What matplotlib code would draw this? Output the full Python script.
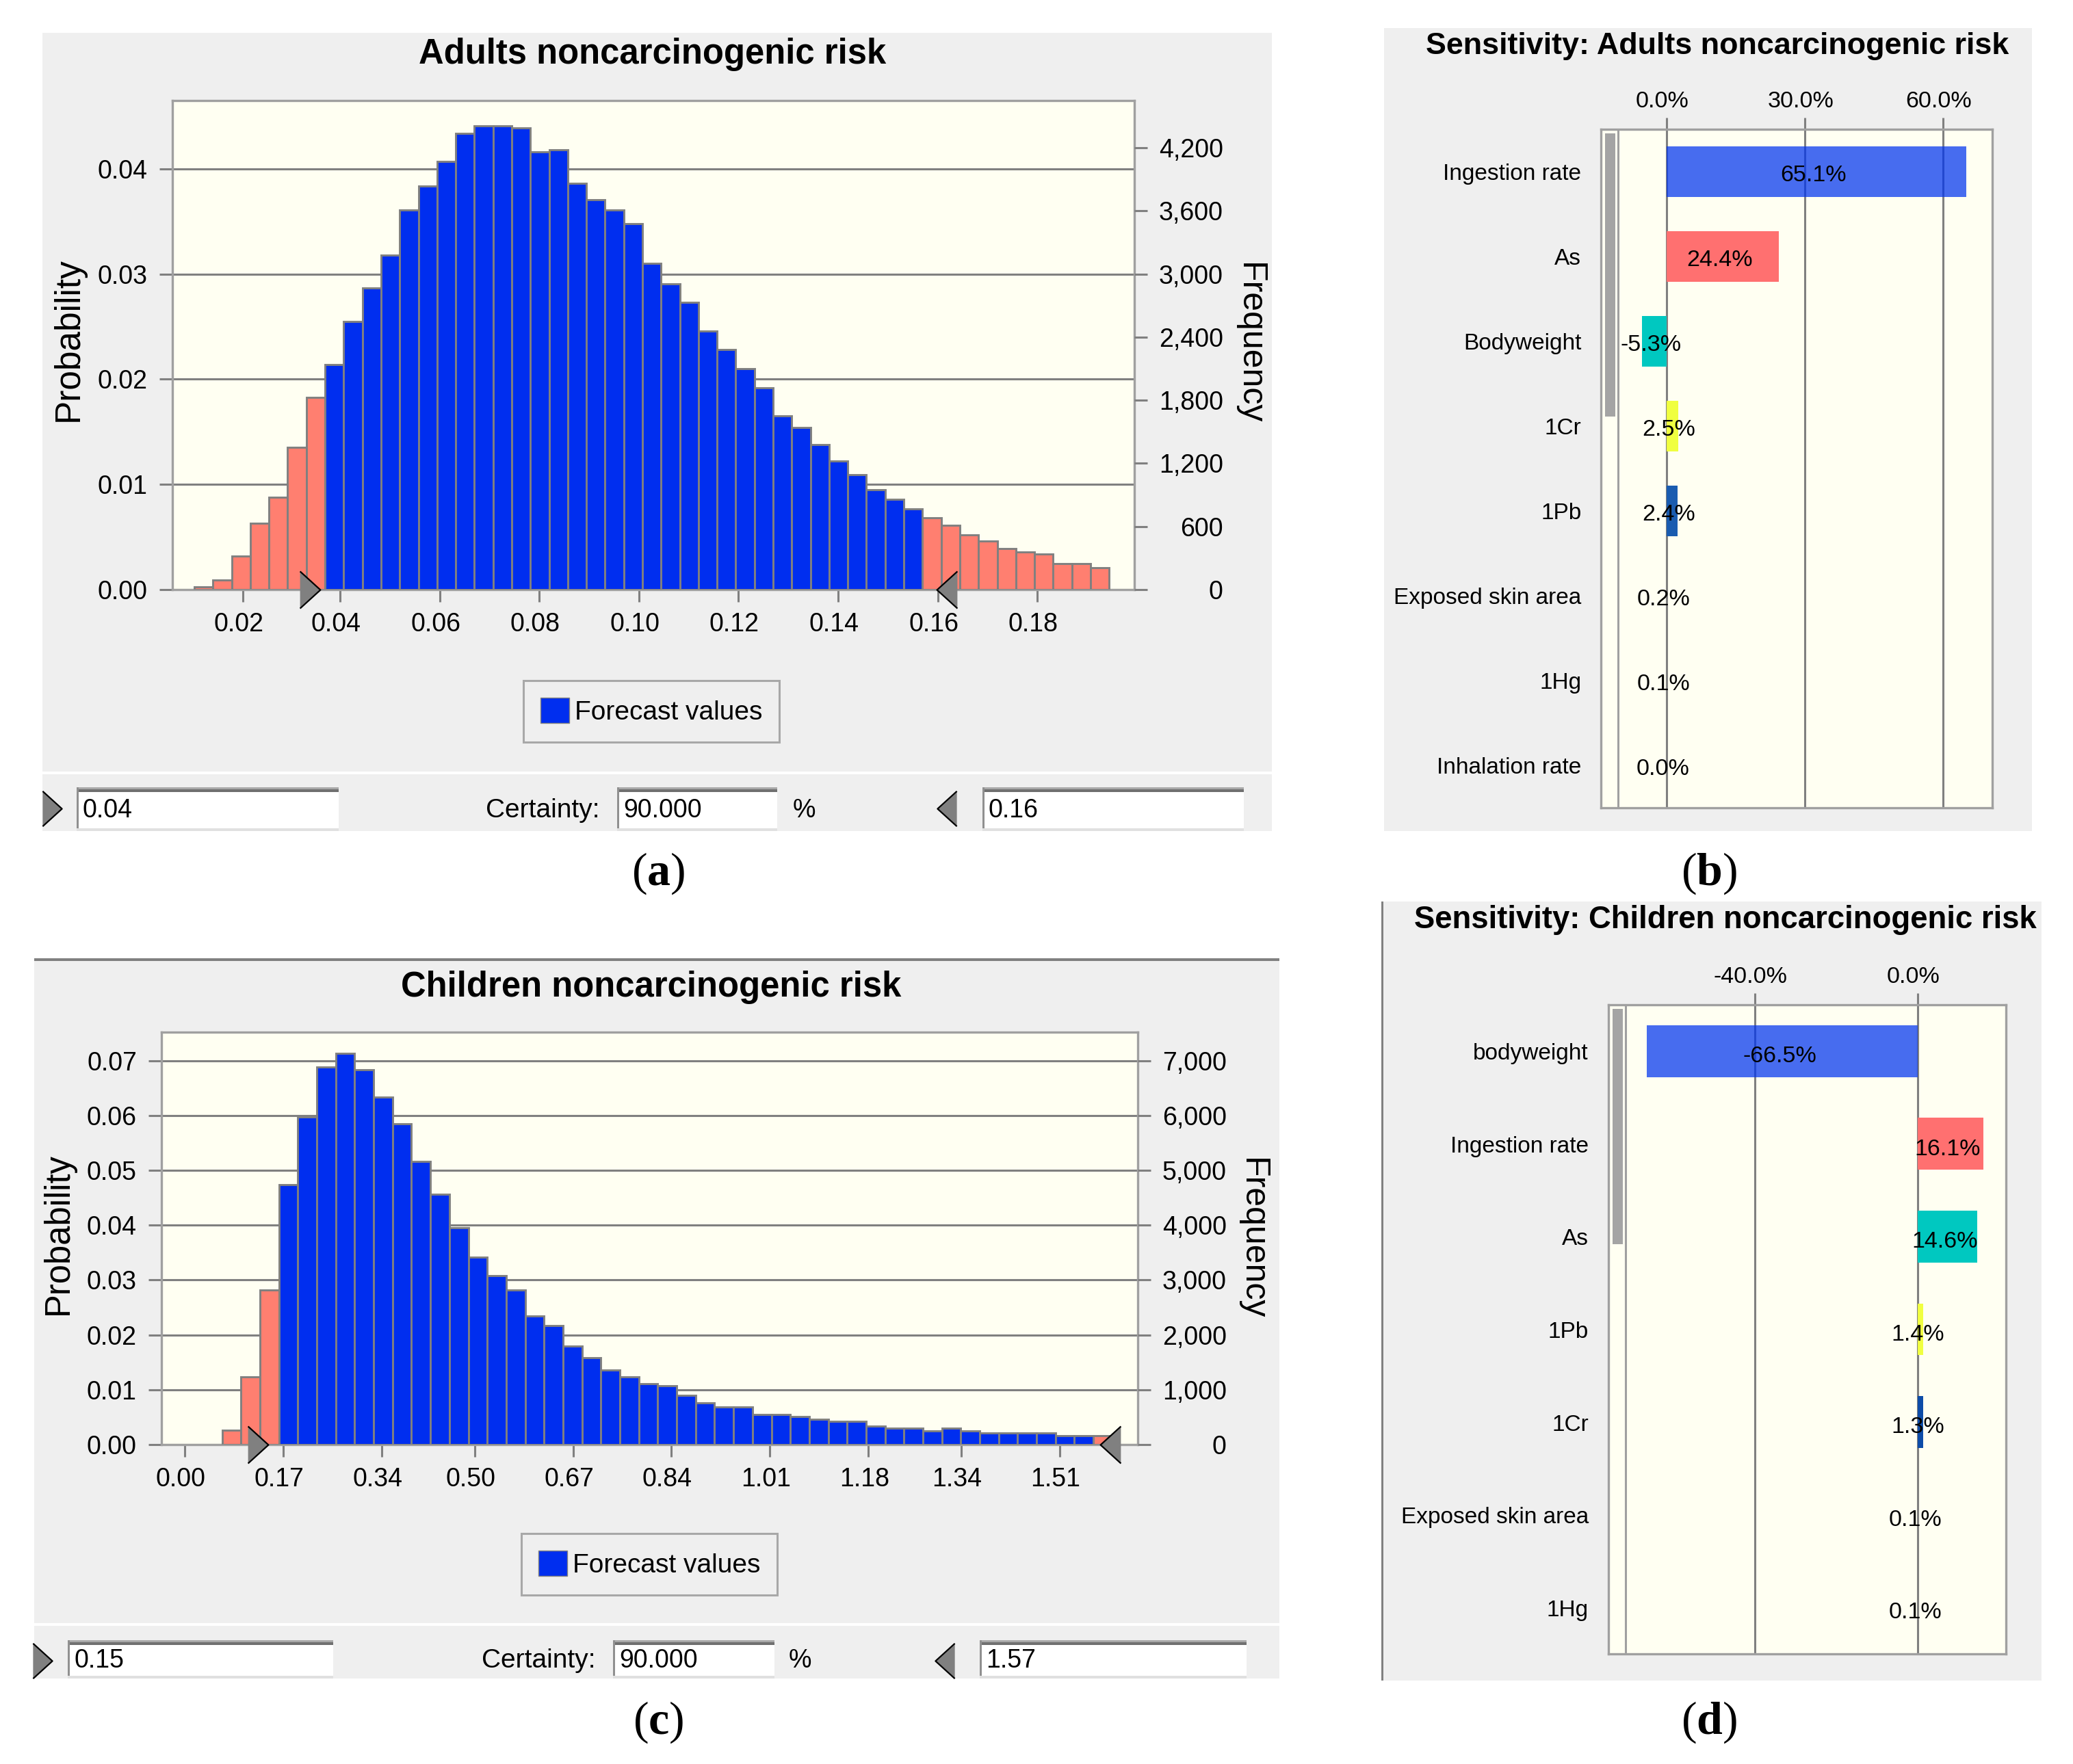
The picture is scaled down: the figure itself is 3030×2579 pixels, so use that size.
import matplotlib
matplotlib.use('Agg')
import matplotlib.pyplot as plt
from matplotlib.patches import Rectangle, Patch
from matplotlib.transforms import Affine2D, ScaledTranslation

plt.rcParams['font.family'] = ['Liberation Sans', 'DejaVu Sans']
plt.rcParams['mathtext.fontset'] = 'custom'
plt.rcParams['mathtext.bf'] = 'Liberation Serif:bold'

W, H = 3030, 2579

# ---- data ----
adults_prob = [.00025, .0009, .0032, .0063, .0088, .01355, .0183, .0214, .0255, .0287,
               .0318, .0361, .0384, .0407, .0434, .0441, .0441, .0439, .0416, .0418,
               .0386, .0371, .0361, .0348, .0310, .0291, .0273, .0246, .0228, .0210,
               .0192, .0165, .0154, .0138, .0122, .0109, .0095, .0086, .0077, .0068,
               .0061, .0052, .0046, .0039, .0036, .0034, .0025, .0025, .0021]
adults_start = 0.0107
adults_bin = 0.00375
adults_low_tail = 7
adults_high_tail = 10
adults_xticks = [.0205, .04, .06, .08, .10, .12, .14, .16, .18]
adults_xlabels = ['0.02', '0.04', '0.06', '0.08', '0.10', '0.12', '0.14', '0.16', '0.18']
adults_yticks = [0, .01, .02, .03, .04]
adults_freq = [0, 600, 1200, 1800, 2400, 3000, 3600, 4200]

children_prob = [.0026, .0124, .0282, .0474, .0597, .0688, .0713, .0683, .0633, .0585,
                 .0516, .0457, .0395, .0342, .0308, .0282, .0235, .0217, .0179, .0158,
                 .0136, .0124, .0111, .0107, .0090, .0076, .0068, .0068, .0055, .0055,
                 .0051, .0046, .0042, .0042, .0034, .0030, .0030, .0025, .0030, .0025,
                 .0021, .0021, .0021, .0021, .0016, .0016, .0016]
children_start = 0.0642
children_bin = 0.0327
children_low_tail = 3
children_high_tail = 1
children_xticks = [0, .17, .34, .50, .67, .84, 1.01, 1.18, 1.34, 1.51]
children_xlabels = ['0.00', '0.17', '0.34', '0.50', '0.67', '0.84', '1.01', '1.18', '1.34', '1.51']
children_yticks = [0, .01, .02, .03, .04, .05, .06, .07]
children_freq = [0, 1000, 2000, 3000, 4000, 5000, 6000, 7000]

sens_a_names = ['Ingestion rate', 'As', 'Bodyweight', '1Cr', '1Pb', 'Exposed skin area', '1Hg', 'Inhalation rate']
sens_a_vals = [65.1, 24.4, -5.3, 2.5, 2.4, 0.2, 0.1, 0.0]
sens_a_ticks = [0, 30, 60]
sens_c_names = ['bodyweight', 'Ingestion rate', 'As', '1Pb', '1Cr', 'Exposed skin area', '1Hg']
sens_c_vals = [-66.5, 16.1, 14.6, 1.4, 1.3, 0.1, 0.1]
sens_c_ticks = [-40, 0]

# colours
BLUE = '#002EEF'
PINK = '#FF7F70'
PLOT_BG = '#FFFFF2'
PANEL = '#EFEFEF'
GRID = '#808080'
FRAME = '#A0A0A0'
sens_colors_a = ['#0033EEB8', '#FF7070', '#00C8C0', '#F0FF40', '#1A5CB0', GRID, GRID, GRID]
sens_colors_c = ['#0033EEB8', '#FF7070', '#00C8C0', '#F0FF40', '#0D4CA8', GRID, GRID]

fig = plt.figure(figsize=(W / 100, H / 100), dpi=100, facecolor='white')
# pixel coords, origin top left
px = Affine2D().scale(1, -1).translate(0, H)


def rect(x0, y0, x1, y1, color, z=0):
    fig.add_artist(Rectangle((x0, y0), x1 - x0, y1 - y0, transform=px, facecolor=color, edgecolor='none', zorder=z))


def txt(x, y, s, **kw):
    kw.setdefault('ha', 'center')
    kw.setdefault('va', 'center')
    fig.text(x, y, s, transform=px, **kw)


def axes_px(x0, y0, x1, y1):
    ax = fig.add_axes([x0 / W, 1 - y1 / H, (x1 - x0) / W, (y1 - y0) / H])
    ax.set_facecolor(PLOT_BG)
    for s in ax.spines.values():
        s.set_color(FRAME)
        s.set_linewidth(2.4)
    return ax


def entry_box(x0, y0, x1, y1, s):
    rect(x0, y0, x1, y1, 'white', 1)
    rect(x0, y0, x1, y0 + 3, '#A8A8A8', 1)
    rect(x0, y0 + 3, x1, y0 + 7, '#707070', 1)
    rect(x0, y0, x0 + 3, y1, '#909090', 1)
    rect(x0, y1 - 4, x1, y1, '#E0E0E0', 1)
    txt(x0 + 9, (y0 + y1) / 2 + 2, s, ha='left', fontsize=27, zorder=2)


def histogram(box, probs, start, width, low, high, xlim, ylim, xticks, xlabels, yticks, freq, handles, legend_c):
    ax = axes_px(*box)
    lefts = [start + i * width for i in range(len(probs))]
    colors = [PINK if i < low or i >= len(probs) - high else BLUE for i in range(len(probs))]
    ax.bar(lefts, probs, width=width, align='edge', color=colors, edgecolor=GRID, linewidth=2.1, zorder=3)
    ax.set_xlim(*xlim)
    ax.set_ylim(*ylim)
    ax.set_yticks(yticks)
    ax.set_yticklabels(['%.2f' % v for v in yticks], fontsize=27)
    ax.set_xticks(xticks)
    ax.set_xticklabels(xlabels, fontsize=27)
    ax.yaxis.grid(True, color=GRID, linewidth=2.2, zorder=1)
    ax.set_axisbelow(True)
    ax.tick_params(axis='y', length=14, width=2.2, color=GRID, pad=12)
    ax.tick_params(axis='x', length=13, width=2.2, color=GRID, pad=11)
    for lab in ax.get_xticklabels():
        lab.set_transform(lab.get_transform() + ScaledTranslation(-6 / 100, 0, fig.dpi_scale_trans))

    ax2 = ax.twinx()
    ax2.set_ylim(ylim[0] * 100000, ylim[1] * 100000)
    ax2.set_yticks(freq)
    ax2.set_yticklabels(['{:,}'.format(v) for v in freq], fontsize=27, ha='right')
    ax2.tick_params(axis='y', length=14, width=2.2, color=GRID, pad=79.5)
    for s in ax2.spines.values():
        s.set_visible(False)

    # cut-off grabbers on the baseline
    ax.plot([handles[0]], [0], marker=[(-.55, -1), (.55, 0), (-.55, 1)], ms=39, mfc='#808080', mec='black',
            mew=1.6, clip_on=False, zorder=6)
    ax.plot([handles[1]], [0], marker=[(.55, -1), (-.55, 0), (.55, 1)], ms=39, mfc='#808080', mec='black',
            mew=1.6, clip_on=False, zorder=6)

    leg = ax.legend(handles=[Patch(facecolor=BLUE, edgecolor=GRID, label='Forecast values')], loc='center',
                    bbox_to_anchor=legend_c, bbox_transform=px, fancybox=False, framealpha=1,
                    facecolor=PANEL, edgecolor='#A8A8A8', fontsize=28, handlelength=1.08, handleheight=1.08,
                    handletextpad=.2, borderpad=.65)
    leg.get_frame().set_linewidth(2.2)
    leg.set_zorder(5)
    return ax


def sensitivity(box, inner_x, names, vals, colors, xlim, ticks, bar_h, label_x, bar_bar, val_off):
    ax = axes_px(*box)
    pos = list(range(len(names)))
    ax.set_axisbelow(True)
    ax.xaxis.grid(True, color=GRID, linewidth=2.2, zorder=1)
    bars = ax.barh(pos, vals, height=bar_h, color=colors, linewidth=0, zorder=3)
    labels = ax.bar_label(bars, labels=['%.1f%%' % v for v in vals], label_type='center', fontsize=24.5, color='black', zorder=5)
    for t in labels:
        t.xyann = val_off
    ax.set_ylim(len(names) - .5, -.5)
    ax.set_xlim(*xlim)
    ax.xaxis.tick_top()
    ax.set_xticks(ticks)
    ax.set_xticklabels(['%.1f%%' % v for v in ticks], fontsize=24.5)
    ax.tick_params(axis='x', length=12, width=2.2, color=GRID, pad=6)
    for lab in ax.get_xticklabels():
        lab.set_transform(lab.get_transform() + ScaledTranslation(-6 / 100, 0, fig.dpi_scale_trans))
    ax.set_yticks([])
    for p, name in zip(pos, names):
        ax.text(label_x, p + .03, name, transform=ax.get_yaxis_transform(), ha='right', va='center',
                fontsize=24, clip_on=False)
    # scroll strip on the left of the plot
    x0, y0, x1, y1 = box
    ax.add_line(plt.Line2D([(inner_x - x0) / (x1 - x0)] * 2, [0, 1], transform=ax.transAxes, color=FRAME, lw=2.2, zorder=4))
    sb = Rectangle((6 / (x1 - x0), 1 - (bar_bar - y0) / (y1 - y0)), (inner_x - x0 - 10) / (x1 - x0),
                   (bar_bar - y0 - 6) / (y1 - y0), transform=ax.transAxes, facecolor='#A4A4A4', edgecolor='none', zorder=4)
    ax.add_patch(sb)
    return ax


# ---- panel backgrounds ----
rect(62, 48, 1859, 1215, PANEL)
rect(62, 1128, 1859, 1132, 'white', 1)
rect(50, 1403, 1870, 2454, PANEL)
rect(50, 1401, 1870, 1405, '#808080', 1)
rect(50, 2373, 1870, 2377, 'white', 1)
rect(2023, 41, 2970, 1215, PANEL)
rect(2019, 1318, 2984, 2457, PANEL)
rect(2019, 1318, 2022, 2457, '#808080', 1)

# ---- histograms ----
histogram((252, 147, 1658, 862), adults_prob, adults_start, adults_bin, adults_low_tail, adults_high_tail,
          (0.0063, 0.1995), (0, 0.0465), adults_xticks, adults_xlabels, adults_yticks, adults_freq,
          (0.0339, 0.1619), (952, 1040))
histogram((236, 1509, 1663, 2112), children_prob, children_start, children_bin, children_low_tail, children_high_tail,
          (-0.0405, 1.645), (0, 0.0752), children_xticks, children_xlabels, children_yticks, children_freq,
          (0.1256, 1.598), (949, 2287))

txt(954, 80, 'Adults noncarcinogenic risk', fontsize=36.5, fontweight='bold')
txt(952, 1443, 'Children noncarcinogenic risk', fontsize=36.5, fontweight='bold')
txt(100, 496, 'Probability', fontsize=37, rotation=90)
txt(1826, 502, 'Frequency', fontsize=36, rotation=270)
txt(85, 1804, 'Probability', fontsize=36.5, rotation=90)
txt(1830, 1811, 'Frequency', fontsize=36, rotation=270)

# ---- bottom strips ----
entry_box(112, 1151, 495, 1215, '0.04')
entry_box(902, 1151, 1136, 1215, '90.000')
entry_box(1436, 1151, 1818, 1215, '0.16')
txt(876, 1185, 'Certainty:', ha='right', fontsize=28)
txt(1175, 1185, '%', fontsize=27)
entry_box(99, 2398, 487, 2454, '0.15')
entry_box(896, 2398, 1132, 2454, '90.000')
entry_box(1432, 2398, 1822, 2454, '1.57')
txt(871, 2428, 'Certainty:', ha='right', fontsize=28)
txt(1169, 2428, '%', fontsize=27)

ax_strip = fig.add_axes([0, 0, 1, 1], facecolor='none')
ax_strip.set_axis_off()
ax_strip.set_xlim(0, W)
ax_strip.set_ylim(H, 0)
for x, y, m in [(76, 1182, '>'), (1384, 1182, '<'), (62, 2428, '>'), (1381, 2428, '<')]:
    verts = [(-.55, -1), (.55, 0), (-.55, 1)] if m == '>' else [(.55, -1), (-.55, 0), (.55, 1)]
    ax_strip.plot([x], [y], marker=verts, ms=37, mfc='#808080', mec='black', mew=1.6)

# ---- sensitivity charts ----
sensitivity((2340, 189, 2912, 1181), 2365, sens_a_names, sens_a_vals, sens_colors_a, (-14.26, 70.7), sens_a_ticks,
            0.59, -0.05, 609, (-3.6, -4.2))
sensitivity((2351, 1469, 2932, 2418), 2376, sens_c_names, sens_c_vals, sens_colors_c,
            (-75.97, 21.7), sens_c_ticks, 0.56, -0.05, 1819, (-2.8, -5.6))

txt(2510, 68, 'Sensitivity: Adults noncarcinogenic risk', fontsize=32.3, fontweight='bold')
txt(2522, 1345, 'Sensitivity: Children noncarcinogenic risk', fontsize=32.8, fontweight='bold')

# ---- captions ----
for x, y, c in [(962, 1277, 'a'), (2498, 1277, 'b'), (962, 2518, 'c'), (2498, 2518, 'd')]:
    txt(x, y, '($\\mathbf{%s}$)' % c, fontsize=49, family='Liberation Serif')

fig.savefig('out.png', dpi=100, facecolor='white')
